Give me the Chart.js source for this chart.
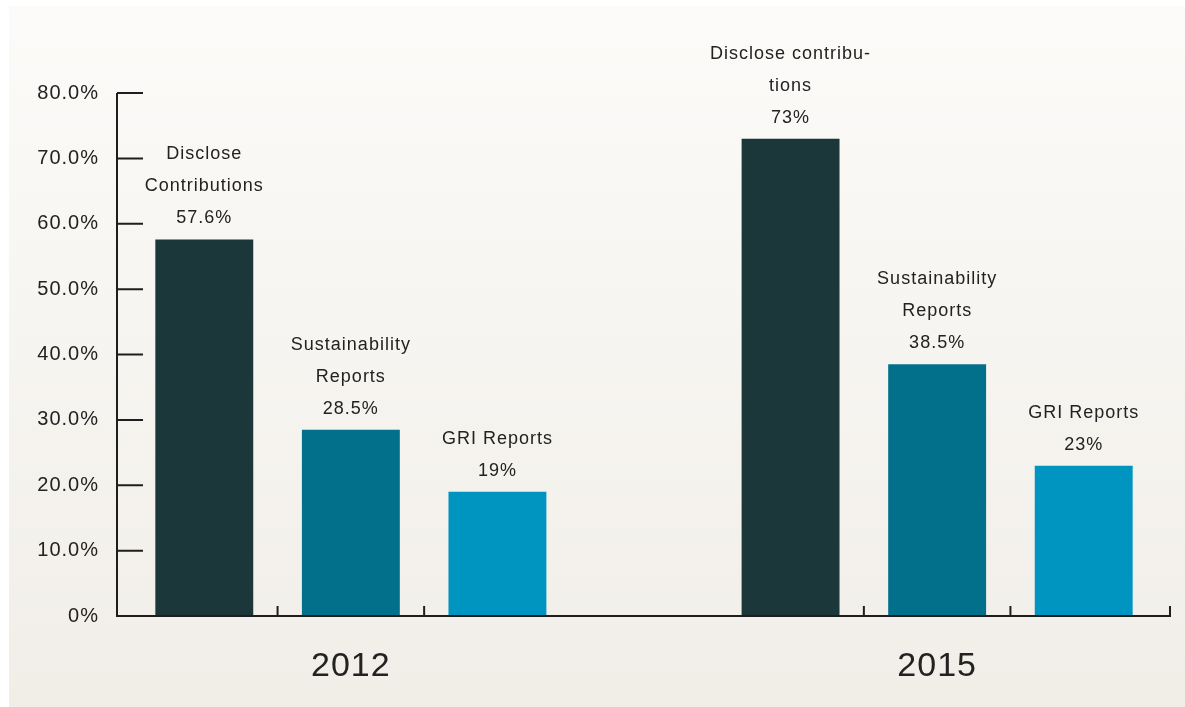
<!DOCTYPE html>
<html>
<head>
<meta charset="utf-8">
<script src="https://cdn.jsdelivr.net/npm/chart.js@4.4.1/dist/chart.umd.min.js"></script>
<style>
  html, body { margin: 0; padding: 0; background: #fff; }
  #wrap { width: 1185px; height: 707px; }
</style>
</head>
<body>
<div id="wrap"><canvas id="shareChart" width="1185" height="707"></canvas></div>
<script>
const years = ['2012', '2015'];
const seriesNames = ['Disclose Contributions', 'Sustainability Reports', 'GRI Reports'];
const values2012 = [57.6, 28.5, 19];
const values2015 = [73, 38.5, 23];
const captions2012 = [['Disclose', 'Contributions'], ['Sustainability', 'Reports'], ['GRI Reports']];
const captions2015 = [['Disclose contribu-', 'tions'], ['Sustainability', 'Reports'], ['GRI Reports']];
const yTicks = [0, 10, 20, 30, 40, 50, 60, 70, 80];
const seriesColors = ['#1b3739', '#026f8b', '#0095c1'];

const textColor = '#222';
const fontFamily = '"Liberation Sans", Arial, Helvetica, sans-serif';

// one slot per bar, with an empty slot between the two years
const slots = [];
[[years[0], values2012, captions2012], [years[1], values2015, captions2015]].forEach(([year, vals, caps], g) => {
    if (g > 0) slots.push({ year: null, value: null, caption: [], color: 'rgba(0,0,0,0)', pos: -1 });
    vals.forEach((v, i) => slots.push({ year, value: v, caption: caps[i], color: seriesColors[i], pos: i }));
});

// paper background
const backdrop = {
    id: 'backdrop',
    beforeDraw(chart) {
        const { ctx, width, height } = chart;
        ctx.save();
        ctx.fillStyle = '#ffffff';
        ctx.fillRect(0, 0, width, height);
        const grad = ctx.createLinearGradient(0, 0, 0, height);
        grad.addColorStop(0, '#fcfbf9');
        grad.addColorStop(1, '#f1eee8');
        ctx.fillStyle = grad;
        ctx.fillRect(9, 6, width - 9, height - 6);
        ctx.restore();
        ctx.letterSpacing = '1px';
    }
};

// axis lines with inward tick marks
const axes = {
    id: 'axes',
    afterDatasetsDraw(chart) {
        const { ctx, chartArea, scales } = chart;
        const y = scales.y, x = scales.x;
        const axisX = chartArea.left - 14;
        const base = y.getPixelForValue(0);
        const endX = chartArea.right + 13;
        ctx.save();
        ctx.strokeStyle = '#1e1e1e';
        ctx.lineWidth = 2;
        ctx.beginPath();
        ctx.moveTo(axisX, y.getPixelForValue(yTicks[yTicks.length - 1]));
        ctx.lineTo(axisX, base);
        ctx.lineTo(endX, base);
        ctx.lineTo(endX, base - 10);
        yTicks.forEach(v => {
            const py = y.getPixelForValue(v);
            ctx.moveTo(axisX, py);
            ctx.lineTo(axisX + 26, py);
        });
        // ticks between neighbouring bars of the same year
        for (let i = 0; i < slots.length - 1; i++) {
            if (slots[i].year && slots[i].year === slots[i + 1].year) {
                const px = (x.getPixelForValue(i) + x.getPixelForValue(i + 1)) / 2;
                ctx.moveTo(px, base);
                ctx.lineTo(px, base - 10);
            }
        }
        ctx.stroke();
        ctx.restore();
    }
};

// caption and value above each bar
const captions = {
    id: 'captions',
    afterDatasetsDraw(chart) {
        const { ctx } = chart;
        const meta = chart.getDatasetMeta(0);
        ctx.save();
        ctx.font = '18px ' + fontFamily;
        ctx.letterSpacing = '1px';
        ctx.fillStyle = textColor;
        ctx.textAlign = 'center';
        ctx.textBaseline = 'middle';
        meta.data.forEach((bar, i) => {
            const s = slots[i];
            if (s.value == null) return;
            const lines = [...s.caption, s.value + '%'];
            lines.forEach((t, k) => {
                ctx.fillText(t, bar.x, bar.y - 21 - (lines.length - 1 - k) * 32);
            });
        });
        ctx.restore();
    }
};

new Chart(document.getElementById('shareChart'), {
    type: 'bar',
    data: {
        labels: slots.map(s => s.year ? s.year + ' ' + seriesNames[s.pos] : ''),
        datasets: [{
            data: slots.map(s => s.value),
            backgroundColor: slots.map(s => s.color),
            borderWidth: 0,
            barPercentage: 0.668,
            categoryPercentage: 1
        }]
    },
    options: {
        responsive: false,
        animation: false,
        layout: { padding: { top: 93, right: 28, bottom: 0, left: 0 } },
        plugins: { legend: { display: false }, tooltip: { enabled: false } },
        scales: {
            x: {
                offset: true,
                grid: { display: false, drawTicks: false },
                border: { display: false },
                ticks: {
                    autoSkip: false,
                    maxRotation: 0,
                    padding: 30,
                    color: textColor,
                    font: { family: fontFamily, size: 34 },
                    callback: (v, i) => slots[i].pos === 1 ? slots[i].year : ''
                },
                afterFit: s => { s.height = 91; }
            },
            y: {
                min: 0,
                max: 80,
                grid: { display: false, drawTicks: false },
                border: { display: false },
                ticks: {
                    stepSize: 10,
                    padding: 32,
                    color: textColor,
                    font: { family: fontFamily, size: 20 },
                    callback: v => v === 0 ? '0%' : v.toFixed(1) + '%'
                },
                afterFit: s => { s.width = 131; }
            }
        }
    },
    plugins: [backdrop, axes, captions]
});
</script>
</body>
</html>
